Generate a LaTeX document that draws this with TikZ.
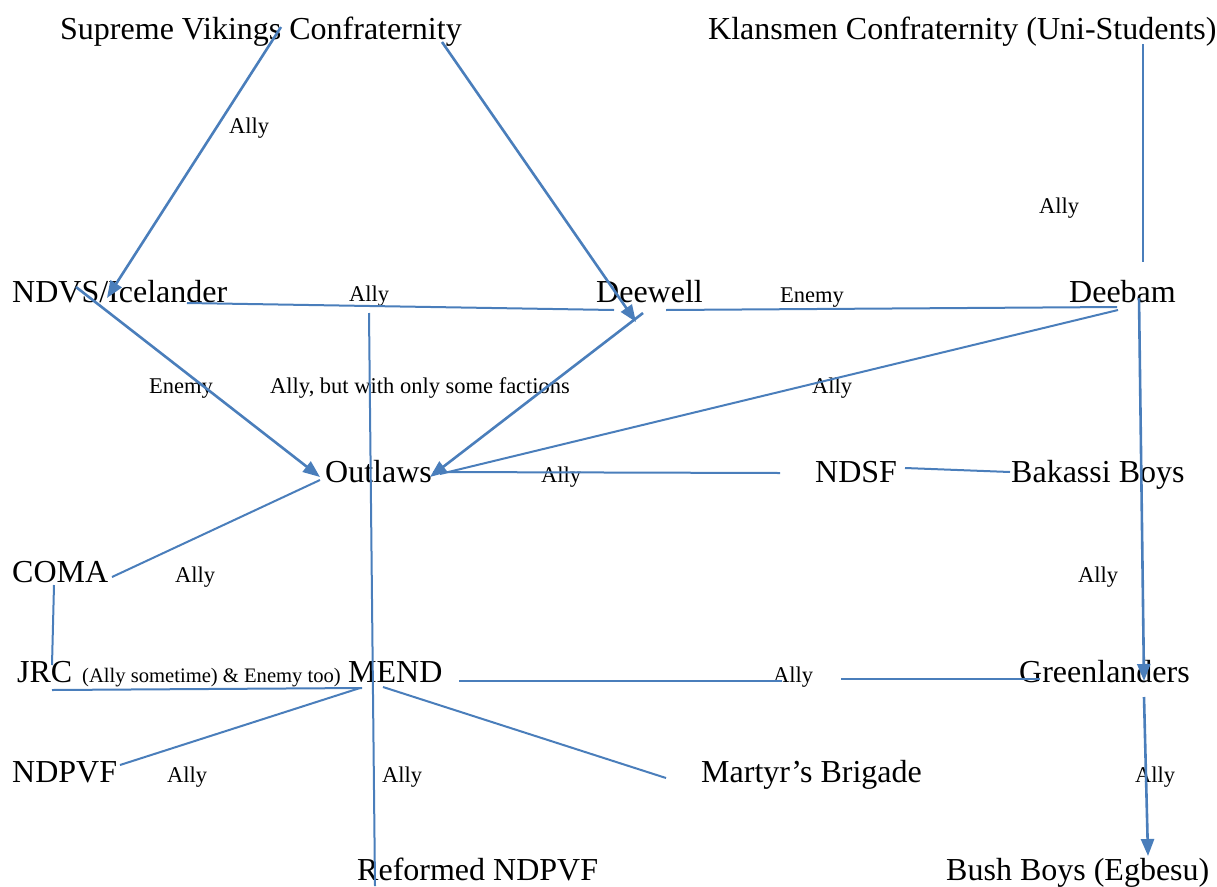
\documentclass[tikz,border=0pt]{standalone}
\usepackage{fontspec}
\setmainfont{Liberation Serif}
\usetikzlibrary{arrows.meta}
\definecolor{linkblue}{RGB}{74,126,187}
\begin{document}
\begin{tikzpicture}[x=1pt,y=-1pt,
 big/.style={anchor=base west,inner sep=0pt,font=\fontsize{32}{36}\selectfont},
 lbl/.style={anchor=base west,inner sep=0pt,font=\fontsize{22.5}{26}\selectfont},
 note/.style={anchor=base west,inner sep=0pt,font=\fontsize{20.6}{24}\selectfont},
 link/.style={draw=linkblue,line width=2pt},
 strong/.style={draw=linkblue,line width=2.6pt,-{Triangle[length=17pt,width=13pt]}},
]
\useasboundingbox (0,0) rectangle (1217,886);

% faction names
\node[big] (svc)   at (60,39)   {Supreme Vikings Confraternity};
\node[big] (klan)  at (708,39)  {Klansmen Confraternity (Uni-Students)};
\node[big] (ndvs)  at (12,302)  {NDVS/Icelander};
\node[big] (deew)  at (596,302) {Deewell};
\node[big] (deeb)  at (1069,302){Deebam};
\node[big] (outl)  at (325,482) {Outlaws};
\node[big] (ndsf)  at (815,482) {NDSF};
\node[big] (baka)  at (1011,482){Bakassi Boys};
\node[big] (coma)  at (12,582)  {COMA};
\node[big] (jrc)   at (17,682)  {JRC};
\node[note] (jrcn) at (82,682)  {(Ally sometime) \& Enemy too)};
\node[big] (mend)  at (348,682) {MEND};
\node[big] (green) at (1019,682){Greenlanders};
\node[big] (ndpvf) at (12,782)  {NDPVF};
\node[big] (mart)  at (701,782) {Martyr’s Brigade};
\node[big] (refn)  at (357,880) {Reformed NDPVF};
\node[big] (bush)  at (946,880) {Bush Boys (Egbesu)};

% relation labels
\node[lbl] (l1)  at (229,133)  {Ally};
\node[lbl] (l2)  at (1039,213) {Ally};
\node[lbl] (l3)  at (349,301)  {Ally};
\node[lbl] (l4)  at (780,302)  {Enemy};
\node[lbl] (l5)  at (149,393)  {Enemy};
\node[lbl] (l6)  at (270,393)  {Ally, but with only some factions};
\node[lbl] (l7)  at (812,393)  {Ally};
\node[lbl] (l8)  at (541,482)  {Ally};
\node[lbl] (l9)  at (175,582)  {Ally};
\node[lbl] (l10) at (1078,582) {Ally};
\node[lbl] (l11) at (773,682)  {Ally};
\node[lbl] (l12) at (167,782)  {Ally};
\node[lbl] (l13) at (382,782)  {Ally};
\node[lbl] (l14) at (1135,782) {Ally};

% connector end points
\coordinate (svcA) at (281,27);   \coordinate (ndvsT) at (107,298);
\coordinate (svcB) at (442,42);   \coordinate (deewT) at (636,322);
\coordinate (ndvsA) at (187,303); \coordinate (deewL) at (614,310);
\coordinate (klanD) at (1143,44); \coordinate (deebT) at (1143,262);
\coordinate (deewR) at (666,310); \coordinate (deebL) at (1117,307);
\coordinate (deebS) at (1118,310);\coordinate (outR) at (440,474);
\coordinate (deewS) at (643,313); \coordinate (outR2) at (430,477);
\coordinate (ndvsS) at (76,287);  \coordinate (outL) at (320,477);
\coordinate (deebD) at (1139,298);\coordinate (greenT) at (1144,681);
\coordinate (greenD) at (1144,697);\coordinate (bushT) at (1148,856);
\coordinate (ndsfR) at (905,468); \coordinate (bakL) at (1010,472);
\coordinate (ndsfL) at (780,473); \coordinate (outR3) at (433,472);
\coordinate (outLL) at (320,480); \coordinate (comaR) at (112,577);
\coordinate (comaD) at (54,585);  \coordinate (jrcT) at (52,665);
\coordinate (jrcB) at (52,690);   \coordinate (mendL) at (362,688);
\coordinate (mendL2) at (360,688);\coordinate (ndpvfR) at (120,765);
\coordinate (mendR) at (383,687); \coordinate (martL) at (666,778);
\coordinate (mendE) at (459,681); \coordinate (gapA) at (782,681);
\coordinate (gapB) at (841,679);  \coordinate (greenL) at (1040,679);
\coordinate (vTop) at (369,313);  \coordinate (vBot) at (375,886);

% connectors
\draw[strong] (svcA) -- (ndvsT);
\draw[strong] (svcB) -- (deewT);
\draw[link] (ndvsA) -- (deewL);
\draw[link] (klanD) -- (deebT);
\draw[link] (deewR) -- (deebL);
\draw[link] (deebS) -- (outR);
\draw[strong] (deewS) -- (outR2);
\draw[strong] (ndvsS) -- (outL);
\draw[strong] (deebD) -- (greenT);
\draw[strong] (greenD) -- (bushT);
\draw[link] (ndsfR) -- (bakL);
\draw[link] (ndsfL) -- (outR3);
\draw[link] (outLL) -- (comaR);
\draw[link] (comaD) -- (jrcT);
\draw[link] (jrcB) -- (mendL);
\draw[link] (mendL2) -- (ndpvfR);
\draw[link] (mendR) -- (martL);
\draw[link] (mendE) -- (gapA);
\draw[link] (gapB) -- (greenL);
\draw[link] (vTop) -- (vBot);
\end{tikzpicture}
\end{document}
